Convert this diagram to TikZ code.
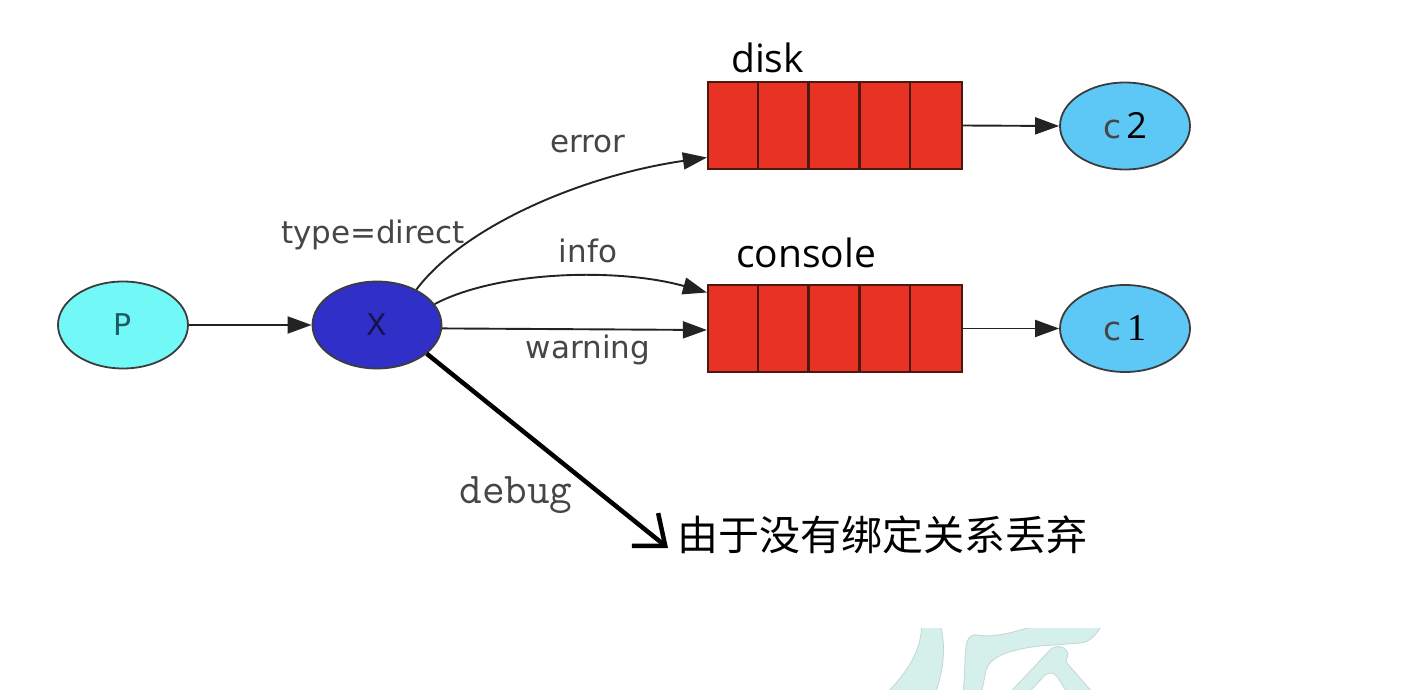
\documentclass[tikz,border=0pt]{standalone}
\usepackage{fontspec}
\setmainfont{DejaVu Sans}
\newfontfamily\lblfont{DejaVu Sans}
\newfontfamily\qfont{Open Sans}
\newfontfamily\cjkfont{Noto Sans CJK SC}
\newfontfamily\digitfont{Liberation Serif}
\usetikzlibrary{arrows.meta,shapes.geometric}
\definecolor{pcol}{RGB}{115,248,248}
\definecolor{xcol}{RGB}{48,48,200}
\definecolor{ccol}{RGB}{93,200,245}
\definecolor{qcol}{RGB}{232,50,35}
\definecolor{qline}{RGB}{75,25,15}
\definecolor{edgecol}{RGB}{35,35,35}
\definecolor{lblcol}{RGB}{70,70,70}
\definecolor{wmfill}{RGB}{213,239,234}
\definecolor{wmline}{RGB}{195,215,212}
\tikzset{
  ell/.style={ellipse, draw={rgb,255:red,60;green,60;blue,60}, line width=1.8pt, inner sep=0pt,
    minimum width=130pt, minimum height=87pt, font=\lblfont\fontsize{30}{34}\selectfont},
  queuebox/.style={rectangle, draw=qline, fill=qcol, line width=2.2pt,
    minimum width=254pt, minimum height=87pt, inner sep=0pt},
  edge/.style={draw=edgecol, line width=1.9pt, -{Triangle[length=24pt,width=17pt]}},
  lbl/.style={text=lblcol, font=\lblfont\fontsize{31}{34}\selectfont, inner sep=0pt, anchor=base},
  qlbl/.style={text=black, font=\qfont\fontsize{39}{44}\selectfont, inner sep=0pt, anchor=base west},
  debugarrow/.style={draw=black, line width=4.5pt, -{Straight Barb[length=26pt,width=42pt,line width=4.5pt]}},
  wm/.style={fill=wmfill, draw=wmline, line width=0.8pt}
}
\begin{document}
\begin{tikzpicture}[x=1pt,y=-1pt]
\useasboundingbox[fill=white] (0,0) rectangle (1422,690);

% watermark
\begin{scope}
\clip (850,628) rectangle (1150,692);
\path[wm] (921,612) -- (936,612) .. controls (947,640) and (946,665) .. (933,700) -- (880,700) .. controls (905,675) and (926,650) .. (921,612) -- cycle;
\path[wm] (962,700) .. controls (966,672) and (964,652) .. (967,642) .. controls (969,636) and (972,634) .. (978,635) .. controls (995,638) and (1015,632) .. (1040,624) -- (1108,612) .. controls (1098,636) and (1090,642) .. (1080,643) -- (1040,646) .. controls (1005,650) and (990,658) .. (986,670) -- (980,700) -- cycle;
\path[wm] (1003,700) -- (1050,650) .. controls (1056,644) and (1066,646) .. (1068,654) -- (1066,662) -- (1099,700) -- (1072,700) -- (1058,678) .. controls (1054,672) and (1050,672) .. (1045,675) -- (1022,700) -- cycle;
\end{scope}

% nodes
\node[ell, fill=pcol, text={rgb,255:red,30;green,90;blue,100}] (P) at (123,325) {P};
\node[ell, fill=xcol, minimum width=129pt, text={rgb,255:red,20;green,20;blue,80}] (X) at (377,325) {X};
\node[queuebox] (disk) at (835,125.5) {};
\node[queuebox] (console) at (835,328.5) {};
\foreach \i in {1,2,3,4}{
  \draw[qline, line width=2.4pt] ([xshift=\i*50.8pt]disk.north west) -- ([xshift=\i*50.8pt]disk.south west);
  \draw[qline, line width=2.4pt] ([xshift=\i*50.8pt]console.north west) -- ([xshift=\i*50.8pt]console.south west);
}
\node[ell, fill=ccol] (C2) at (1125,126) {{\color{lblcol}\fontsize{33}{36}\selectfont c}\,{\qfont\fontsize{36}{40}\selectfont 2}};
\node[ell, fill=ccol] (C1) at (1125,328.5) {{\color{lblcol}\fontsize{33}{36}\selectfont c}\,{\digitfont\fontsize{38}{40}\selectfont 1}};

% queue names
\node[qlbl] (disklbl) at (731,73) {disk};
\node[qlbl] (consolelbl) at (736,267) {console};

% edges
\draw[edge] (P) -- (X);
\draw[edge] (X.42) .. controls (465,225) and (585,175) .. ([yshift=-32pt]disk.west);
\draw[edge] (X.20) .. controls (500,270) and (620,268) .. ([yshift=36pt]console.west);
\draw[edge] (X.-3) -- ([yshift=-1.5pt]console.west);
\draw[edge] (disk.east) -- (C2.west);
\draw[edge] (console.east) -- (C1.west);

% debug
\coordinate (drop) at (668,548);
\draw[debugarrow] (X.-30) -- (drop);

% labels
\node[lbl] (typelbl) at (373,243) {type=direct};
\node[lbl] (errlbl) at (588,153) {error};
\node[lbl] (infolbl) at (588,262) {info};
\node[lbl] (warnlbl) at (588,358) {warning};
\node[text=lblcol, font=\ttfamily\fontsize{44}{48}\selectfont, inner sep=0pt, anchor=base] (debuglbl) at (516,503) {debug};
\node[anchor=west, inner sep=0pt, font=\cjkfont\fontsize{41}{46}\selectfont] (droptext) at (677,535) {由于没有绑定关系丢弃};
\end{tikzpicture}
\end{document}
